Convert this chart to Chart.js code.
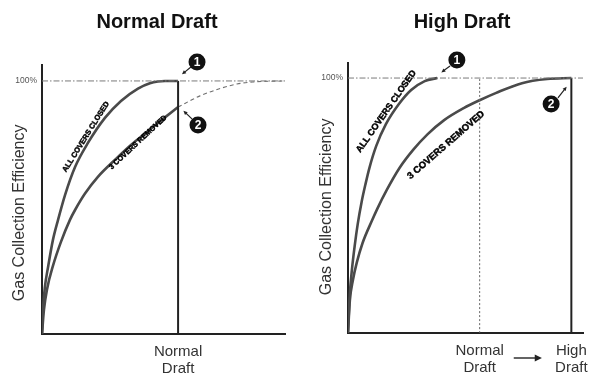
<!DOCTYPE html>
<html><head><meta charset="utf-8">
<script src="https://cdn.jsdelivr.net/npm/chart.js@4/dist/chart.umd.min.js"></script>
<style>
html,body{margin:0;padding:0;background:#fff;}
#wrap{position:relative;width:598px;height:376px;overflow:hidden;background:#fff;}
#c1{position:absolute;left:0;top:0;}
#c2{position:absolute;left:300px;top:0;}
</style></head><body>
<div id="wrap"><canvas id="c1" width="300" height="376"></canvas><canvas id="c2" width="298" height="376"></canvas></div>
<script>
// ---- text ----
const panelTitles = ['Normal Draft', 'High Draft'];
const yAxisTitle = 'Gas Collection Efficiency';
const yTickValues = [100];
const yTickLabels = ['100%'];
const leftXTickValues = [56];
const leftXTickLabels = [['Normal', 'Draft']];
const rightXTickValues = [56, 95];
const rightXTickLabels = [['Normal', 'Draft'], ['High', 'Draft']];
const curveLabels = ['ALL COVERS CLOSED', '3 COVERS REMOVED'];
const calloutNumbers = ['1', '2'];

// ---- series (x: draft, 0-100 ; y: efficiency %) ----
const fullEfficiency = 100;
const leftNormalDraft = 56;
const rightNormalDraft = 56;
const rightHighDraft = 95;
const leftClosedX = [0, 0.4, 1.2, 2.5, 4.5, 6.6, 9.5, 13.6, 18.9, 25.9, 32.5, 39.5, 44.4, 47.7, 50.6, 56];
const leftClosedY = [0, 9.5, 18.6, 26.5, 37.2, 45.1, 55, 66, 75.5, 85.4, 92.1, 97.0, 99.1, 99.8, 100, 100];
const leftRemovedX = [0, 0.8, 2.1, 4.5, 7.8, 11.5, 13.6, 17.7, 23, 30, 36.6, 43.6, 50.6, 56];
const leftRemovedY = [0, 9.5, 17.8, 26.9, 36.4, 45.1, 49, 55.5, 62.1, 68.8, 74.7, 80.2, 85.6, 89.7];
const leftExtendedX = [56, 65, 73.3, 80.2, 86.8, 100];
const leftExtendedY = [89.7, 94.1, 97.0, 98.8, 99.6, 100];
const rightClosedX = [0, 0.41, 0.83, 1.65, 2.89, 4.13, 5.79, 7.44, 9.09, 11.98, 16.12, 21.49, 26.86, 32.64, 38];
const rightClosedY = [0, 9.0, 16.1, 24.7, 34.5, 42.7, 51.4, 58.4, 64.7, 73.3, 81.9, 89.6, 95.3, 98.8, 100];
const rightRemovedX = [0, 0.8, 2.1, 3.7, 6.2, 10.3, 12.4, 16.5, 21.9, 27.7, 33.9, 40.9, 49.2, 56.2, 62.8, 74, 84.7, 95];
const rightRemovedY = [0, 12.9, 20.8, 27.5, 35.3, 44.3, 48.6, 56.1, 64.7, 71.8, 78.0, 83.5, 88.2, 91.4, 94.1, 98, 99.6, 100];

const zip = (xs, ys) => xs.map((x, i) => ({x: x, y: ys[i]}));

const FONT = '"Liberation Sans", Arial, Helvetica, sans-serif';
const CURVE = '#4a4a4a';
const AXIS = '#222';

function drawArrow(ctx, x1, y1, x2, y2, head, width, color) {
  ctx.save();
  ctx.strokeStyle = color; ctx.fillStyle = color; ctx.lineWidth = width;
  const a = Math.atan2(y2 - y1, x2 - x1);
  ctx.beginPath(); ctx.moveTo(x1, y1);
  ctx.lineTo(x2 - head * 0.6 * Math.cos(a), y2 - head * 0.6 * Math.sin(a)); ctx.stroke();
  ctx.beginPath(); ctx.moveTo(x2, y2);
  ctx.lineTo(x2 - head * Math.cos(a - 0.45), y2 - head * Math.sin(a - 0.45));
  ctx.lineTo(x2 - head * Math.cos(a + 0.45), y2 - head * Math.sin(a + 0.45));
  ctx.closePath(); ctx.fill();
  ctx.restore();
}

const annotPlugin = {
  id: 'annot',
  afterDraw(chart, args, o) {
    const ctx = chart.ctx, sx = chart.scales.x, sy = chart.scales.y;
    const P = (x, y) => [sx.getPixelForValue(x), sy.getPixelForValue(y)];
    // panel title
    ctx.save();
    ctx.font = 'bold 20px ' + FONT; ctx.fillStyle = '#111';
    ctx.textAlign = 'center'; ctx.textBaseline = 'alphabetic';
    ctx.fillText(o.title, o.titleX, 27.5);
    ctx.restore();
    // curve labels
    o.labels.forEach(l => {
      const [x, y] = P(l.x, l.y);
      ctx.save();
      ctx.translate(x, y); ctx.rotate(l.angle * Math.PI / 180);
      ctx.font = 'bold ' + l.size + 'px ' + FONT; ctx.fillStyle = '#000';
      ctx.strokeStyle = '#000'; ctx.lineWidth = 0.45;
      ctx.textAlign = 'center'; ctx.textBaseline = 'middle';
      ctx.fillText(l.text, 0, 0);
      ctx.strokeText(l.text, 0, 0);
      ctx.restore();
    });
    // callouts
    o.callouts.forEach(c => {
      const [cx, cy] = P(c.x, c.y);
      const [ax, ay] = P(c.from[0], c.from[1]);
      const [bx, by] = P(c.to[0], c.to[1]);
      drawArrow(ctx, ax, ay, bx, by, 4.5, 1.2, '#222');
      ctx.save();
      ctx.beginPath(); ctx.arc(cx, cy, 8.5, 0, Math.PI * 2); ctx.fillStyle = '#111'; ctx.fill();
      ctx.font = 'bold 12px ' + FONT; ctx.fillStyle = '#fff';
      ctx.textAlign = 'center'; ctx.textBaseline = 'middle';
      ctx.fillText(c.n, cx, cy + 0.5);
      ctx.restore();
    });
    // axis arrow between tick labels
    if (o.axisArrow) {
      const y = chart.chartArea.bottom + 25;
      drawArrow(ctx, sx.getPixelForValue(o.axisArrow[0]), y, sx.getPixelForValue(o.axisArrow[1]), y, 8, 1.4, '#222');
    }
  }
};

function lineDs(data, color, width, dash) {
  return {data: data, borderColor: color, borderWidth: width, borderDash: dash || [],
    pointRadius: 0, fill: false, cubicInterpolationMode: 'monotone', showLine: true};
}

function makeOptions(cfg) {
  return {
    responsive: false, animation: false, devicePixelRatio: 1,
    layout: {padding: {top: cfg.top, right: cfg.right, left: 0, bottom: 0}},
    plugins: {
      legend: {display: false}, title: {display: false}, tooltip: {enabled: false},
      annot: cfg.annot
    },
    scales: {
      x: {
        type: 'linear', min: 0, max: 100,
        grid: {display: false, drawTicks: false},
        border: {display: true, color: AXIS, width: 2},
        ticks: {
          autoSkip: false, maxRotation: 0, padding: 10, color: '#333',
          font: {family: FONT, size: 15, lineHeight: 1.1},
          callback: (v, i) => cfg.xLabels[i]
        },
        afterBuildTicks: s => { s.ticks = cfg.xTicks.map(v => ({value: v})); },
        afterFit: s => { s.height = cfg.xHeight; }
      },
      y: {
        type: 'linear', min: 0, max: cfg.ymax,
        grid: {display: false, drawTicks: false},
        border: {display: true, color: AXIS, width: 2},
        ticks: {
          padding: 5, color: '#555', font: {family: FONT, size: 8.5},
          callback: (v, i) => yTickLabels[i]
        },
        afterBuildTicks: s => { s.ticks = yTickValues.map(v => ({value: v})); },
        afterFit: s => { s.width = cfg.yWidth; },
        title: {
          display: true, text: yAxisTitle + '\u00a0'.repeat(cfg.titleShift),
          color: '#333', font: {family: FONT, size: 16}, padding: {top: cfg.titlePad, bottom: 0}
        }
      }
    }
  };
}

// ---- left panel ----
new Chart(document.getElementById('c1'), {
  type: 'scatter',
  data: {datasets: [
    lineDs([{x: 0, y: fullEfficiency}, {x: 100, y: fullEfficiency}], '#7a7a7a', 1, [6, 2, 1.5, 2]),
    lineDs([{x: leftNormalDraft, y: 0}, {x: leftNormalDraft, y: fullEfficiency}], AXIS, 2),
    lineDs(zip(leftExtendedX, leftExtendedY), '#707070', 1.1, [4, 3]),
    lineDs(zip(leftClosedX, leftClosedY), CURVE, 2.6),
    lineDs(zip(leftRemovedX, leftRemovedY), CURVE, 2.6)
  ]},
  options: makeOptions({
    top: 65, right: 15, ymax: 106.3, yWidth: 42, xHeight: 42, titlePad: 10, titleShift: 6,
    xTicks: leftXTickValues, xLabels: leftXTickLabels,
    annot: {
      title: panelTitles[0], titleX: 157,
      labels: [
        {text: curveLabels[0], x: 18.1, y: 77.9, angle: -58, size: 7.5},
        {text: curveLabels[1], x: 39.5, y: 75.7, angle: -43, size: 7.3}
      ],
      callouts: [
        {n: calloutNumbers[0], x: 63.8, y: 107.5, from: [61.3, 105.5], to: [57.6, 102.6]},
        {n: calloutNumbers[1], x: 64.2, y: 82.6, from: [61.7, 85], to: [58.2, 88.2]}
      ],
      axisArrow: null
    }
  }),
  plugins: [annotPlugin]
});

// ---- right panel ----
new Chart(document.getElementById('c2'), {
  type: 'scatter',
  data: {datasets: [
    lineDs([{x: 0, y: fullEfficiency}, {x: 100, y: fullEfficiency}], '#7a7a7a', 1, [6, 2, 1.5, 2]),
    lineDs([{x: rightNormalDraft, y: 0}, {x: rightNormalDraft, y: fullEfficiency}], '#666', 1, [2, 2]),
    lineDs([{x: rightHighDraft, y: 0}, {x: rightHighDraft, y: fullEfficiency}], AXIS, 2),
    lineDs(zip(rightClosedX, rightClosedY), CURVE, 2.6),
    lineDs(zip(rightRemovedX, rightRemovedY), CURVE, 2.6)
  ]},
  options: makeOptions({
    top: 63, right: 8, ymax: 105.9, yWidth: 48, xHeight: 43, titlePad: 17, titleShift: 4,
    xTicks: rightXTickValues, xLabels: rightXTickLabels,
    annot: {
      title: panelTitles[1], titleX: 162,
      labels: [
        {text: curveLabels[0], x: 16.3, y: 86.9, angle: -55, size: 9},
        {text: curveLabels[1], x: 41.7, y: 73.7, angle: -41, size: 9.5}
      ],
      callouts: [
        {n: calloutNumbers[0], x: 46.3, y: 107.1, from: [43.4, 104.7], to: [39.7, 102.2]},
        {n: calloutNumbers[1], x: 86.4, y: 89.8, from: [89.3, 92.2], to: [93, 96.6]}
      ],
      axisArrow: [70.5, 82.5]
    }
  }),
  plugins: [annotPlugin]
});
</script>
</body></html>
